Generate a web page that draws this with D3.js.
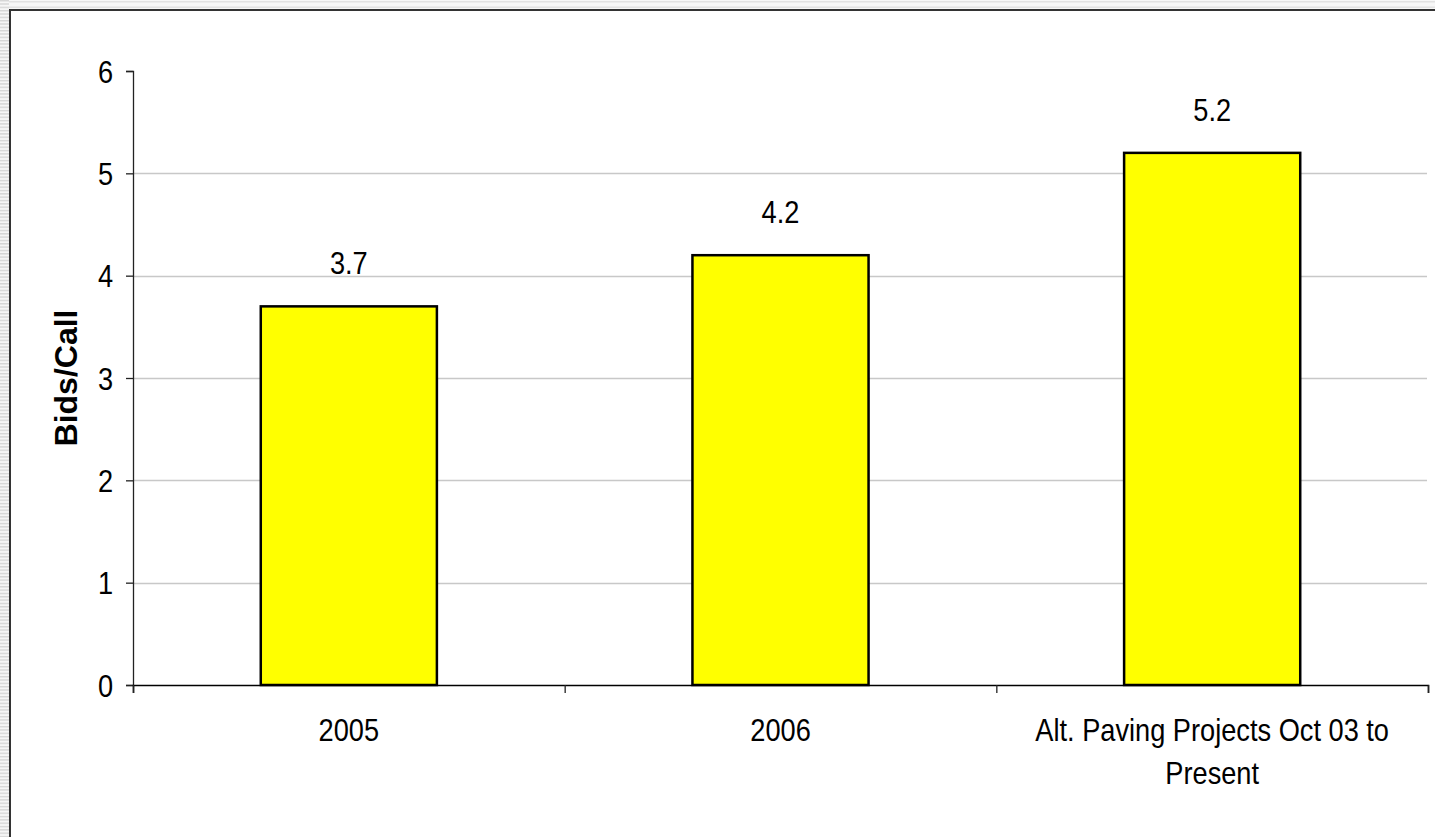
<!DOCTYPE html>
<html>
<head>
<meta charset="utf-8">
<script src="https://cdn.jsdelivr.net/npm/d3@7"></script>
<style>
  body { margin: 0; background: #fff; }
  svg { display: block; }
  text { font-family: "Liberation Sans", Arial, sans-serif; fill: #000; }
</style>
</head>
<body>
<svg id="chart"></svg>
<script>
// Data
const categories = ["2005", "2006", "Alt. Paving Projects Oct 03 to Present"];
const values = [3.7, 4.2, 5.2];
const yTicks = [0, 1, 2, 3, 4, 5, 6];
const yTitle = "Bids/Call";

// Dimensions
const width = 1435;
const height = 837;
const margin = {top: 71, right: 7, bottom: 152, left: 133};
const squeeze = 0.85;  // le texte de l'original est plus étroit que Arial

const svg = d3.select("#chart")
  .attr("width", width)
  .attr("height", height);

// cadre gris (bords rayés à gauche et en haut)
const defs = svg.append("defs");
const stripes = defs.append("pattern")
  .attr("id", "stripes")
  .attr("width", 8).attr("height", 3.33)
  .attr("patternUnits", "userSpaceOnUse");
stripes.append("rect").attr("width", 8).attr("height", 3.33).attr("fill", "#f6f6f6");
stripes.append("rect").attr("width", 8).attr("height", 1.4).attr("fill", "#d6d6d6");

svg.append("rect").attr("x", 0).attr("y", 0).attr("width", 9).attr("height", height).attr("fill", "url(#stripes)");
svg.append("rect").attr("x", 9).attr("y", 0).attr("width", width).attr("height", 9).attr("fill", "#f7f7f7");
svg.append("rect").attr("x", 9).attr("y", 1).attr("width", width).attr("height", 1.5).attr("fill", "#e2e2e2");
svg.append("rect").attr("x", 9).attr("y", 6.5).attr("width", width).attr("height", 1.5).attr("fill", "#e2e2e2");
svg.append("path")
  .attr("d", `M10,${height} V10 H${width}`)
  .attr("fill", "none")
  .attr("stroke", "#333")
  .attr("stroke-width", 2);

// Scales
const x = d3.scaleBand()
  .domain(categories)
  .range([margin.left, width - margin.right])
  .paddingInner(0.592)
  .paddingOuter(0.296);

const xEdges = d3.scaleLinear()
  .domain([0, categories.length])
  .range([margin.left, width - margin.right]);

const y = d3.scaleLinear()
  .domain([0, 6])
  .range([height - margin.bottom, margin.top]);

// Quadrillage
svg.append("g")
  .selectAll("line")
  .data(yTicks.filter(d => d > 0 && d < 6))
  .enter()
  .append("line")
  .attr("x1", margin.left)
  .attr("x2", width - margin.right - 1)
  .attr("y1", d => Math.round(y(d)) + 0.5)
  .attr("y2", d => Math.round(y(d)) + 0.5)
  .attr("stroke", "#c8c8c8")
  .attr("stroke-width", 1.3);

// Barres
svg.append("g")
  .selectAll("rect")
  .data(values)
  .enter()
  .append("rect")
  .attr("x", (d, i) => x(categories[i]))
  .attr("y", d => y(d))
  .attr("width", x.bandwidth())
  .attr("height", d => y(0) - y(d))
  .attr("fill", "#ffff00")
  .attr("stroke", "#000")
  .attr("stroke-width", 2.5);

// Étiquettes de valeurs
svg.append("g")
  .selectAll("text")
  .data(values)
  .enter()
  .append("text")
  .attr("transform", (d, i) => `translate(${x(categories[i]) + x.bandwidth() / 2},${y(d) - 32}) scale(${squeeze},1)`)
  .attr("text-anchor", "middle")
  .attr("font-size", "32px")
  .text(d => d.toFixed(1));

// Axe Y
const yAxis = svg.append("g")
  .attr("transform", `translate(${margin.left},0)`)
  .call(d3.axisLeft(y).tickValues(yTicks).tickSize(7).tickPadding(0).tickFormat(d3.format("d")));
yAxis.select(".domain").attr("stroke", "#222").attr("stroke-width", 1.3);
yAxis.selectAll(".tick line").attr("stroke", "#222").attr("stroke-width", 1.3);
yAxis.selectAll(".tick text")
  .attr("font-family", "Liberation Sans, Arial, sans-serif")
  .attr("font-size", "32px")
  .attr("x", -20 / squeeze)
  .attr("dy", "0.35em")
  .attr("transform", `scale(${squeeze},1)`);

// Axe X : graduations aux limites des catégories
const xTickAxis = svg.append("g")
  .attr("transform", `translate(0,${y(0)})`)
  .call(d3.axisBottom(xEdges).tickValues(d3.range(categories.length + 1)).tickSize(8).tickFormat(""));
xTickAxis.select(".domain").attr("stroke", "#000").attr("stroke-width", 1.6);
xTickAxis.selectAll(".tick line").attr("stroke", "#222").attr("stroke-width", 1.3);

// Axe X : libellés des catégories
const xAxis = svg.append("g")
  .attr("transform", `translate(0,${y(0)})`)
  .call(d3.axisBottom(x).tickSize(0).tickPadding(0));
xAxis.select(".domain").remove();
xAxis.selectAll(".tick text")
  .attr("font-family", "Liberation Sans, Arial, sans-serif")
  .attr("font-size", "32px")
  .attr("y", 33)
  .attr("transform", `scale(${squeeze},1)`)
  .each(function(d) {
    const t = d3.select(this);
    const lines = d.length > 30 ? [d.replace(/ Present$/, ""), "Present"] : [d];
    t.text(null);
    lines.forEach((line, i) => {
      t.append("tspan")
        .attr("x", 0)
        .attr("dy", i === 0 ? "0.71em" : "43px")
        .text(line);
    });
  });

// Titre de l'axe Y
svg.append("text")
  .attr("transform", `translate(66,${(y(0) + y(6)) / 2 + 0}) rotate(-90)`)
  .attr("text-anchor", "middle")
  .attr("dominant-baseline", "central")
  .attr("font-size", "32px")
  .attr("font-weight", "bold")
  .text(yTitle);
</script>
</body>
</html>
